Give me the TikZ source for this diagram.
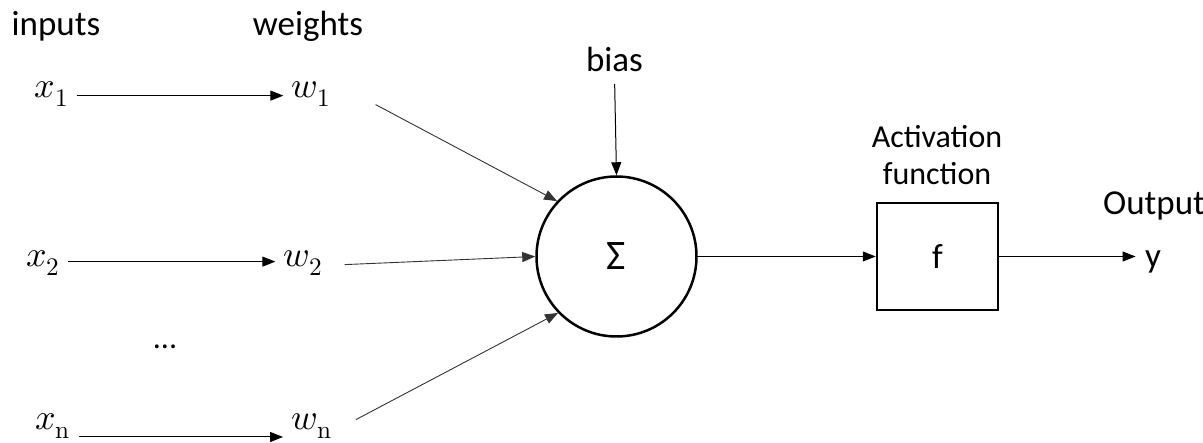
\documentclass[tikz,border=0pt]{standalone}
\usepackage{fontspec}
\usepackage{unicode-math}
\setmainfont{Carlito}
\setmathfont{Latin Modern Math}
\usetikzlibrary{arrows.meta}

\tikzset{
  lbl/.style={font=\fontsize{32}{38}\selectfont, anchor=base},
  head/.style={font=\fontsize{35}{42}\selectfont, anchor=base},
  var/.style={font=\fontsize{36}{42}\selectfont, anchor=base, inner sep=8pt},
  arr/.style={-{Triangle[length=13pt,width=10pt]}, line width=1pt},
  link/.style={arr, draw=black!80, line width=0.9pt},
  unit/.style={line width=2.5pt},
}

\begin{document}
\begin{tikzpicture}[x=1pt, y=-1pt]
  \useasboundingbox (0,0) rectangle (1203,443);

  % En-tetes
  \node[head] (inputs)  at (56,36)  {inputs};
  \node[head] (weights) at (308,36) {weights};
  \node[head] (bias)    at (614.5,72) {bias};

  % Entrees et poids
  \node[var] (x1) at (51.5,98) {$x_1$};
  \node[var] (w1) at (311,98)  {$w_1$};
  \node[var] (x2) at (43,267)  {$x_2$};
  \node[var] (w2) at (303,267) {$w_2$};
  \node[lbl] (dots) at (165,349) {...};
  \node[var] (xn) at (53,430)  {$x_{\symup{n}}$};
  \node[var] (wn) at (311.5,430) {$w_{\symup{n}}$};

  % Sommateur et activation
  \node[unit, draw, circle, minimum size=160pt, inner sep=0pt,
        font=\fontsize{42}{46}\selectfont] (sum) at (616.5,256.5) {Σ};
  \node[unit, draw, minimum width=121pt, minimum height=107pt,
        font=\fontsize{35}{42}\selectfont] (act) at (937.5,256.5) {f};
  \node[lbl] (acttop) at (937,148) {Activation};
  \node[lbl] (actbot) at (937,185) {function};
  \node[head] (output) at (1154,215) {Output};
  \node[head] (yout)   at (1153,268) {y};

  % Fleches
  \draw[arr] (x1.mid east) -- (w1.mid west);
  \draw[arr] ([yshift=3pt]x2.mid east) -- ([yshift=3pt]w2.mid west);
  \draw[arr] ([yshift=-7pt]xn.base east) -- ([yshift=-7pt]wn.base west);

  \draw[link] ([shift={(37,9)}]w1.mid east) -- (sum.137);
  \draw[link] ([xshift=14pt]w2.mid east) -- (sum.west);
  \draw[link] ([shift={(16,-8)}]wn.mid east) -- (sum.224);
  \draw[arr, shorten <=8pt] (bias.south) -- (sum.north);

  \draw[arr] (sum.east) -- (act.west);
  \draw[arr, shorten >=6pt] (act.east) -- (act.east -| yout.west);
\end{tikzpicture}
\end{document}
